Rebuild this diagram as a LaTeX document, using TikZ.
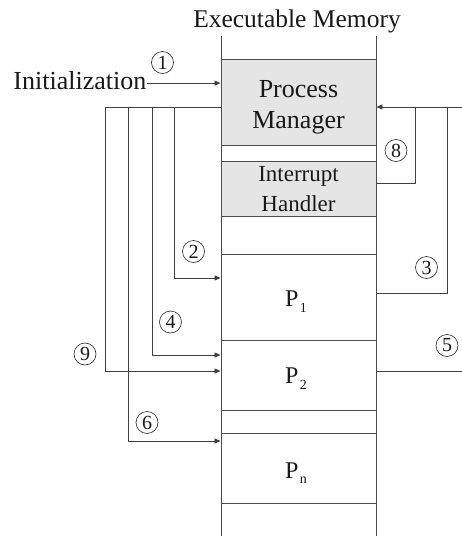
\documentclass[tikz,border=0pt]{standalone}
\usepackage{fontspec}
\setmainfont{Liberation Serif}
\newfontfamily\tnr{Liberation Serif}
\usetikzlibrary{arrows.meta,calc}
\begin{document}
\begin{tikzpicture}[x=1pt,y=-1pt,
  wire/.style={draw=black!75,line width=0.8pt},
  flow/.style={wire,-{Triangle[length=6pt,width=5pt]}},
  slot/.style={draw=black!70,line width=0.9pt,minimum width=155pt,inner sep=0pt,anchor=north},
  core/.style={slot,fill=black!10},
  lbl/.style={inner sep=0pt,text=black!90},
  big/.style={lbl,font=\tnr\fontsize{26}{26}\selectfont,anchor=base},
  mid/.style={lbl,font=\tnr\fontsize{23}{23}\selectfont,anchor=base},
  proc/.style={lbl,font=\tnr\fontsize{24}{24}\selectfont,anchor=base},
  num/.style={circle,draw=black!85,line width=0.6pt,minimum size=22pt,inner sep=0pt,
              text=black!90,font=\tnr\fontsize{20}{20}\selectfont}]

\useasboundingbox (0,0) rectangle (462,536);

% memory slots
\node[core,minimum height=86pt] (pm) at (298.5,59) {};
\node[core,minimum height=55pt] (ih) at (298.5,161) {};
\node[slot,minimum height=86pt] (p1) at (298.5,254) {};
\node[slot,minimum height=70pt] (p2) at (298.5,340) {};
\node[slot,minimum height=70pt] (pn) at (298.5,433) {};

% column borders
\coordinate (cl0) at (221,36);  \coordinate (cl1) at (221,536);
\coordinate (cr0) at (376,36);  \coordinate (cr1) at (376,536);
\draw[draw=black!70,line width=0.9pt] (cl0) -- (cl1) (cr0) -- (cr1);

% slot texts
\node[lbl,font=\tnr\fontsize{25.5}{25.5}\selectfont,anchor=base] (title) at (297,27.5) {Executable Memory};
\node[big] (pmA) at (298.5,97) {Process};
\node[big] (pmB) at (298.5,128) {Manager};
\node[mid] (ihA) at (298.5,181.5) {Interrupt};
\node[mid] (ihB) at (298.5,211) {Handler};
\node[proc] (p1t) at (296,306) {P\kern1.5pt\raisebox{-6pt}{\fontsize{14}{14}\selectfont 1}};
\node[proc] (p2t) at (296,383) {P\kern1.5pt\raisebox{-6pt}{\fontsize{14}{14}\selectfont 2}};
\node[proc] (pnt) at (296,478) {P\kern1.5pt\raisebox{-5pt}{\fontsize{14}{14}\selectfont n}};

% initialization
\node[big,anchor=base east] (init) at (146.5,89) {Initialization};
\draw[flow] ($(init.east)+(0,3)$) -- ($(init.east -| pm.west)+(0,3)$);

% dispatch lines on the left
\coordinate (b9) at (105,107);
\coordinate (b6) at (128,107);
\coordinate (b4) at (152,107);
\coordinate (b2) at (174,107);
\draw[wire] (pm.west |- b9) -- (b9);
\draw[flow] (b2) |- (p1.west |- 0,278);
\draw[flow] (b4) |- (p2.west |- 0,355);
\draw[flow] (b9) |- (p2.west |- 0,371);
\draw[flow] (b6) |- (pn.west |- 0,441);

% return lines on the right
\coordinate (rin) at (462,107);
\coordinate (r8) at (415,107);
\coordinate (r3) at (447,107);
\coordinate (r5) at (462,371);
\draw[flow] (rin) -- (pm.east |- rin);
\draw[wire] (ih.east |- 0,183) -| (r8);
\draw[wire] (p1.east |- 0,293) -| (r3);
\draw[wire] (p2.east |- r5) -- (r5);

% step numbers
\node[num] (n1) at (162.5,62.5) {1};
\node[num] (n2) at (193.5,251.5) {2};
\node[num] (n3) at (426.5,267.5) {3};
\node[num] (n4) at (170.5,322) {4};
\node[num] (n5) at (447,345.5) {5};
\node[num] (n6) at (147,422.5) {6};
\node[num] (n8) at (396,150.5) {8};
\node[num] (n9) at (85,354) {9};
\end{tikzpicture}
\end{document}
